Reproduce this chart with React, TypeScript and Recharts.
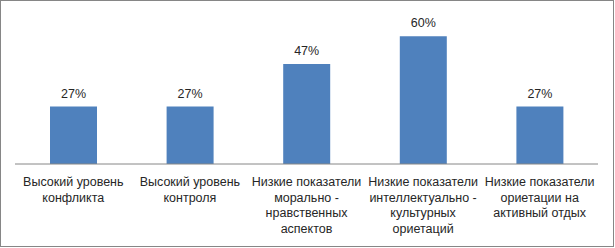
import React from "react";
import { BarChart, Bar, XAxis, YAxis, LabelList } from "recharts";

const categories = [
  "Высокий уровень\nконфликта",
  "Высокий уровень\nконтроля",
  "Низкие показатели\nморально -\nнравственных\nаспектов",
  "Низкие показатели\nинтеллектуально -\nкультурных\nориетаций",
  "Низкие показатели\nориетации на\nактивный отдых",
];
const values = [27, 27, 47, 60, 27];

const data = categories.map((c, i) => ({ name: c, value: values[i] }));

const FONT = "'Liberation Sans', Arial, sans-serif";

const CategoryTick = (props: any) => {
  const { x, y, payload } = props;
  const lines = String(payload.value).split("\n");
  return (
    <text x={x} y={y} textAnchor="middle" fill="#262626" fontSize={12.5} fontFamily={FONT}>
      {lines.map((l: string, i: number) => (
        <tspan key={i} x={x} dy={i === 0 ? 14 : 15.6}>
          {l}
        </tspan>
      ))}
    </text>
  );
};

export default function App() {
  return (
    <div>
      <style>{`body{margin:0}`}</style>
      <div
        style={{
          position: "absolute",
          left: 0,
          top: 0,
          width: 612,
          height: 245,
          border: "1px solid #868686",
          background: "#fff",
        }}
      >
        <BarChart
          width={612}
          height={245}
          data={data}
          margin={{ top: 14, right: 15, bottom: 0, left: 14 }}
        >
          <XAxis
            dataKey="name"
            interval={0}
            tickLine={false}
            axisLine={{ stroke: "#868686" }}
            tick={<CategoryTick />}
            height={82}
          />
          <YAxis hide domain={[0, 70]} />
          <Bar dataKey="value" fill="#4F81BD" barSize={47} isAnimationActive={false}>
            <LabelList
              dataKey="value"
              position="top"
              offset={9}
              formatter={(v: any) => `${v}%`}
              fill="#262626"
              fontSize={12.5}
              fontFamily={FONT}
            />
          </Bar>
        </BarChart>
      </div>
    </div>
  );
}
